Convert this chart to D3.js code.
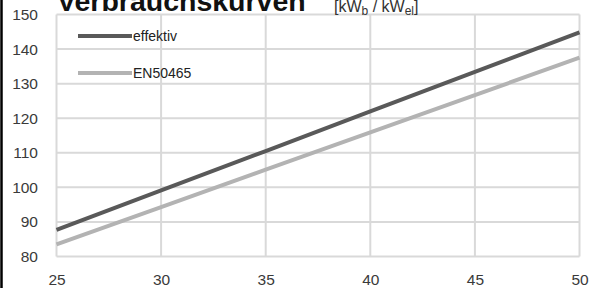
<!DOCTYPE html>
<html>
<head>
<meta charset="utf-8">
<script src="https://cdn.jsdelivr.net/npm/d3@7"></script>
<style>
  html, body { margin: 0; padding: 0; background: #fff; }
  svg { display: block; }
  text { font-family: "Liberation Sans", Arial, Helvetica, sans-serif; }
</style>
</head>
<body>
<svg id="chart" width="590" height="288"></svg>
<script>
const xValues = [25, 30, 35, 40, 45, 50];
const effektiv = [87.7, 99.1, 110.5, 122.0, 133.4, 144.8];
const en50465 = [83.5, 94.3, 105.1, 115.9, 126.7, 137.5];
const xTicks = [25, 30, 35, 40, 45, 50];
const yTicks = [80, 90, 100, 110, 120, 130, 140, 150];
const seriesNames = ["effektiv", "EN50465"];
const title = "Verbrauchskurven";

const svg = d3.select("#chart");
const W = 590, H = 288;
const m = { left: 56.5, right: 10.5, top: 14.5, bottom: 31.5 };

const x = d3.scaleLinear().domain([25, 50]).range([m.left, W - m.right]);
const y = d3.scaleLinear().domain([80, 150]).range([H - m.bottom, m.top]);

// left black border
svg.append("line").attr("x1", 1.5).attr("x2", 1.5).attr("y1", 0).attr("y2", H)
  .attr("stroke", "#000").attr("stroke-width", 2.5);

// grid
const grid = svg.append("g");
grid.selectAll("line.h").data(yTicks).join("line")
  .attr("x1", x(25)).attr("x2", x(50))
  .attr("y1", d => y(d)).attr("y2", d => y(d))
  .attr("stroke", "#d9d9d9").attr("stroke-width", 2);
grid.selectAll("line.v").data(xTicks).join("line")
  .attr("x1", d => x(d)).attr("x2", d => x(d))
  .attr("y1", y(150)).attr("y2", y(80))
  .attr("stroke", "#d9d9d9").attr("stroke-width", 2);

// axes labels using d3 axes
const yAxis = d3.axisLeft(y).tickValues(yTicks).tickSize(0).tickPadding(0).tickFormat(d3.format("d"));
const gy = svg.append("g").attr("transform", `translate(38,0)`).call(yAxis);
gy.select(".domain").remove();
gy.selectAll("text").attr("font-size", 15.5).attr("fill", "#3a3a3a")
  .attr("font-family", "'Liberation Sans', Arial, sans-serif");

const xAxis = d3.axisBottom(x).tickValues(xTicks).tickSize(0).tickPadding(0).tickFormat(d3.format("d"));
const gx = svg.append("g").attr("transform", `translate(0,${H - 14})`).call(xAxis);
gx.select(".domain").remove();
gx.selectAll("text").attr("font-size", 15.5).attr("fill", "#3a3a3a")
  .attr("font-family", "'Liberation Sans', Arial, sans-serif");

// lines
const line = d3.line().x((d, i) => x(xValues[i])).y(d => y(d));
const colors = ["#595959", "#b3b3b3"];
[effektiv, en50465].forEach((s, k) => {
  svg.append("path").datum(s).attr("d", line)
    .attr("fill", "none").attr("stroke", colors[k]).attr("stroke-width", 4);
});

// legend
const legY = [36, 73];
seriesNames.forEach((n, k) => {
  svg.append("line").attr("x1", 78).attr("x2", 132).attr("y1", legY[k]).attr("y2", legY[k])
    .attr("stroke", colors[k]).attr("stroke-width", 4);
  svg.append("text").attr("x", 133).attr("y", legY[k]).attr("dy", "0.35em")
    .attr("font-size", 14).attr("fill", "#222").text(n);
});

// title (cut off at top)
svg.append("text").attr("x", 57).attr("y", 11).attr("font-size", 28.5).attr("font-weight", "bold")
  .attr("fill", "#111").text(title);
const unit = svg.append("text").attr("x", 334).attr("y", 12).attr("font-size", 16).attr("fill", "#333");
unit.append("tspan").text("[kW");
unit.append("tspan").attr("font-size", 12).attr("dy", 3).text("b");
unit.append("tspan").attr("dy", -3).text(" / kW");
unit.append("tspan").attr("font-size", 12).attr("dy", 3).text("el");
unit.append("tspan").attr("dy", -3).text("]");
</script>
</body>
</html>
